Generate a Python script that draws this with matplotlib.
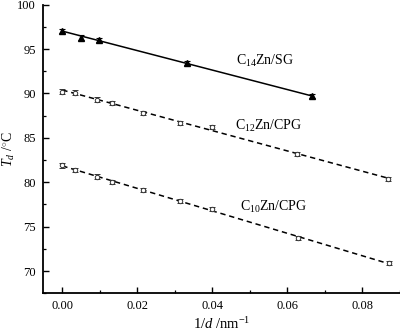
import numpy as np
import matplotlib
matplotlib.use("Agg")
import matplotlib.pyplot as plt
from matplotlib.ticker import MultipleLocator

plt.rcParams['font.family'] = ['Liberation Serif', 'DejaVu Serif']
plt.rcParams['mathtext.fontset'] = 'custom'
plt.rcParams['mathtext.rm'] = 'Liberation Serif'
plt.rcParams['mathtext.it'] = 'Liberation Serif:italic'

# C14Zn/SG
x14 = [0.0, 0.0051, 0.0099, 0.0333, 0.0665]
y14 = [97.05, 96.3, 96.05, 93.4, 89.7]
# C12Zn/CPG
x12 = [0.0, 0.0035, 0.0093, 0.0132, 0.0216, 0.0314, 0.040, 0.0625, 0.0868]
y12 = [90.2, 90.1, 89.3, 88.9, 87.8, 86.7, 86.25, 83.2, 80.35]
# C10Zn/CPG
x10 = [0.0, 0.0035, 0.0092, 0.0133, 0.0216, 0.0314, 0.0398, 0.0627, 0.087]
y10 = [81.9, 81.4, 80.65, 80.0, 79.15, 77.9, 77.0, 73.7, 70.9]
err = 0.25

labels = ["C$_{14}$Zn/SG", "C$_{12}$Zn/CPG", "C$_{10}$Zn/CPG"]
label_pos = [(0.0541, 93.7), (0.0549, 86.35), (0.0564, 77.2)]

fig = plt.figure(figsize=(4.0, 3.32), dpi=100)
ax = fig.add_axes([0.107, 0.1166, 0.893, 0.8694])

def fitline(x, y, ls):
    p = np.polyfit(x, y, 1)
    xx = np.array([min(x), max(x)])
    ax.plot(xx, np.polyval(p, xx), color='black', ls=ls, lw=1.1, zorder=1)

fitline(x14, y14, '-')
fitline(x12, y12, (0, (3.5, 2.5)))
fitline(x10, y10, (0, (3.5, 2.5)))

ax.errorbar(x14, y14, yerr=err, fmt='^', color='black', ms=4.5, capsize=2.5,
            elinewidth=0.8, capthick=0.8, zorder=3)
for x, y in [(x12, y12), (x10, y10)]:
    ax.errorbar(x, y, yerr=err, fmt='o', mfc='white', mec='#333333', color='#333333',
                ms=3.2, mew=0.7, capsize=2.5, elinewidth=0.7, capthick=0.7, zorder=3)

for lab, (lx, ly) in zip(labels, label_pos):
    ax.text(lx, ly, lab, ha='center', va='center', fontsize=10)

ax.set_xlim(-0.0052, 0.09)
ax.set_ylim(67.5, 100)
ax.xaxis.set_minor_locator(MultipleLocator(0.01))
ax.yaxis.set_minor_locator(MultipleLocator(2.5))
ax.set_xticks([0.0, 0.02, 0.04, 0.06, 0.08])
ax.set_xticklabels(["0.00", "0.02", "0.04", "0.06", "0.08"])
ax.set_yticks([70, 75, 80, 85, 90, 95, 100])
ax.set_yticklabels(["70", "75", "80", "85", "90", "95", "100"])

ax.spines['top'].set_visible(False)
ax.spines['right'].set_visible(False)
ax.spines['left'].set_linewidth(1.3)
ax.spines['bottom'].set_linewidth(1.3)
ax.tick_params(which='major', direction='in', length=4, width=1.0, labelsize=9, pad=5)
ax.tick_params(which='minor', direction='in', length=2.5, width=0.9)

ax.set_xlabel("1/$\\mathit{d}$ /nm$^{-1}$", fontsize=10.5, labelpad=3)
ax.set_ylabel("$\\mathit{T}_{\\mathit{d}}$ /$^{\\circ}$C", fontsize=10, labelpad=0)

fig.savefig("out.png", dpi=100)
